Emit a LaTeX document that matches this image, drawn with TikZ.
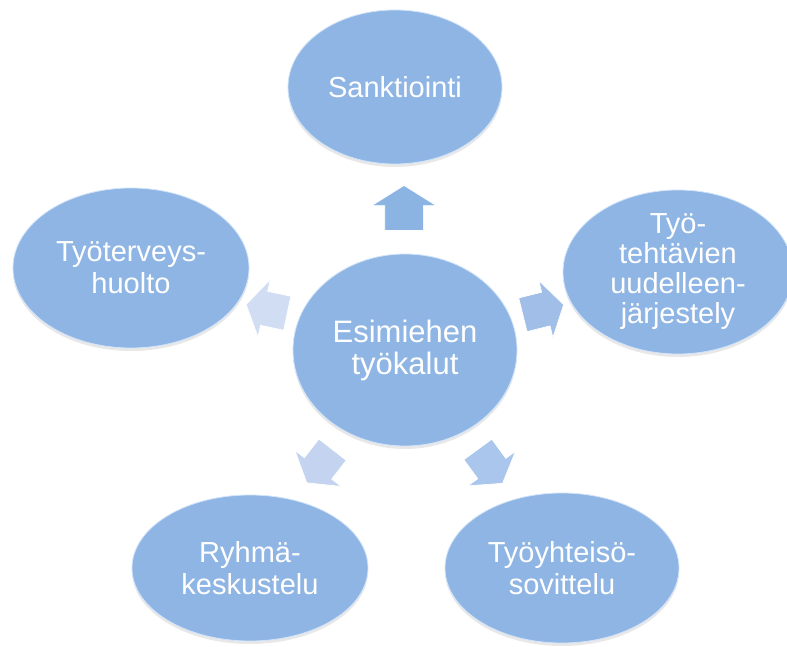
\documentclass[tikz,border=0pt]{standalone}
\usepackage{fontspec}
\setmainfont{Liberation Sans}
\usetikzlibrary{shapes.geometric,shapes.arrows,shadows}
\definecolor{ellfill}{RGB}{142,181,228}
\definecolor{elledge}{RGB}{118,158,212}
\definecolor{ellrim}{RGB}{210,228,250}
\definecolor{arrA}{RGB}{140,180,226}
\definecolor{arrB}{RGB}{208,221,243}
\definecolor{arrC}{RGB}{160,190,232}
\definecolor{arrD}{RGB}{196,211,239}
\definecolor{arrE}{RGB}{170,198,236}
\pgfdeclareradialshading{ellshade}{\pgfpoint{0bp}{0bp}}{color(0bp)=(ellfill); color(40bp)=(ellfill); color(47.5bp)=(elledge); color(50bp)=(ellrim); color(72bp)=(ellrim)}
\newcommand{\shaftA}{\rule{0pt}{38pt}}
\newcommand{\shaftB}{\rule{0pt}{34pt}}
\tikzset{
  ell/.style={ellipse, shading=ellshade, draw=ellrim, line width=0.8pt, text=white,
    align=center, inner sep=0pt, font=\fontsize{29}{32}\selectfont,
    drop shadow={opacity=0.18, shadow xshift=0pt, shadow yshift=-3pt}},
  blockarrow/.style={single arrow, single arrow head extend=13pt, single arrow tip angle=116,
    minimum height=45pt, inner sep=0pt, draw=white, line width=0.7pt},
  sidearrow/.style={blockarrow, minimum height=42pt, single arrow head extend=12pt}
}
\begin{document}
\begin{tikzpicture}[x=1pt,y=1pt]
\fill[white] (0,0) rectangle (787,646);
\useasboundingbox (0,0) rectangle (787,646);
\clip (0,0) rectangle (787,646);
% block arrows
\node[blockarrow, fill=arrA, rotate=90] (aup) at (404,432) {\shaftA};
\node[sidearrow, fill=arrB, rotate=168] (aleft) at (272,336) {\shaftB};
\node[sidearrow, fill=arrC, rotate=14] (aright) at (538,335) {\shaftB};
\node[sidearrow, fill=arrD, rotate=232] (adl) at (323,184) {\shaftB};
\node[sidearrow, fill=arrE, rotate=306] (adr) at (487,184) {\shaftB};
% ellipses
\node[ell, minimum width=214pt, minimum height=154pt] (S) at (395,559) {Sanktiointi};
\node[ell, minimum width=224pt, minimum height=192pt, font=\fontsize{31}{32}\selectfont] (C) at (405,296) {Esimiehen\\työkalut};
\node[ell, minimum width=236pt, minimum height=160pt] (L) at (131,378) {Työterveys-\\huolto};
\node[ell, minimum width=230pt, minimum height=154pt, font=\fontsize{29}{30}\selectfont] (R) at (678,374) {Työ-\\tehtävien\\uudelleen-\\järjestely};
\node[ell, minimum width=236pt, minimum height=146pt] (BL) at (250,78) {Ryhmä-\\keskustelu};
\node[ell, minimum width=234pt, minimum height=150pt] (BR) at (562,78) {Työyhteisö-\\sovittelu};
\end{tikzpicture}
\end{document}
